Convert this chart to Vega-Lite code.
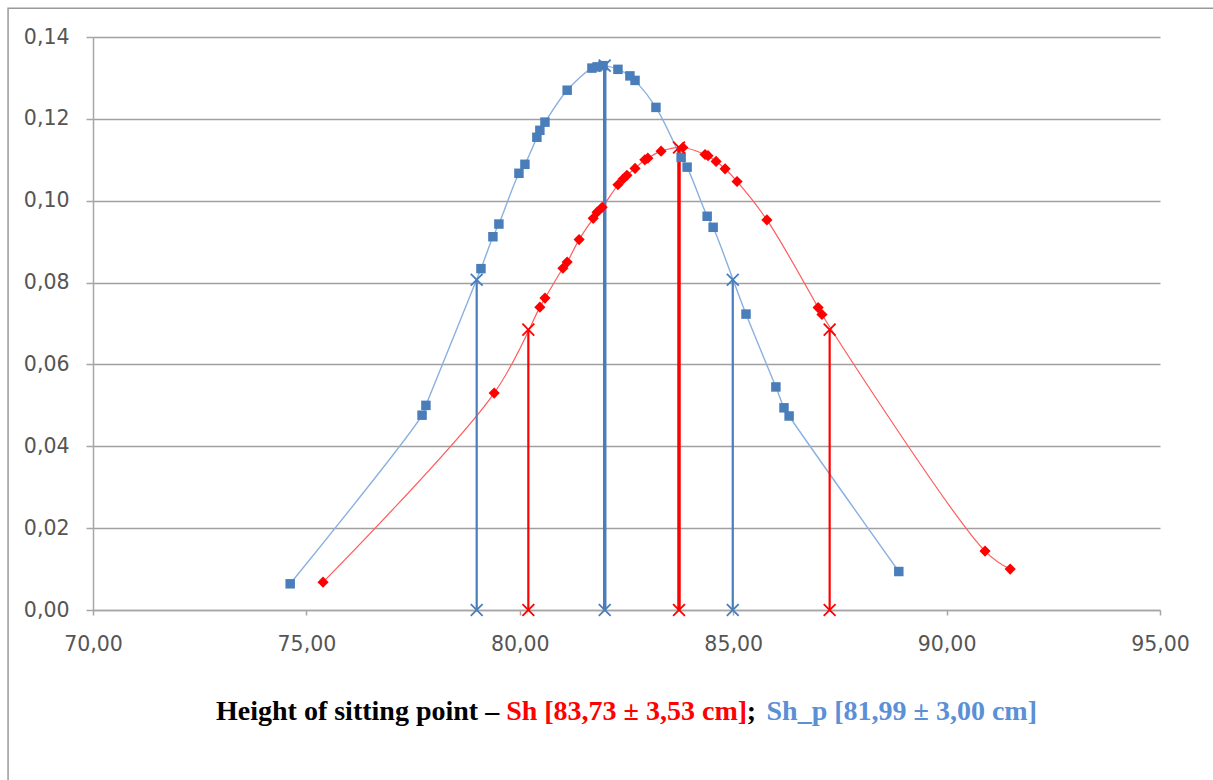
{
  "$schema": "https://vega.github.io/schema/vega-lite/v6.json",
  "width": 1067,
  "height": 573,
  "autosize": {"type": "none"},
  "padding": {"left": 93, "top": 37, "right": 53, "bottom": 170},
  "background": "white",
  "config": {
    "view": {"stroke": null},
    "font": "DejaVu Sans",
    "axis": {"labelFont": "DejaVu Sans", "labelFontSize": 20.5, "labelColor": "#555555", "labelFlush": false, "labelOverlap": false, "domainColor": "#a6a6a6", "tickColor": "#a6a6a6", "gridColor": "#a0a0a0", "gridWidth": 1.5, "domainWidth": 1.5, "tickWidth": 1.5, "labelExpr": "replace(format(datum.value, '.2f'), '.', ',')"},
    "axisX": {"grid": false, "tickSize": 5, "labelPadding": 19},
    "axisY": {"grid": true, "tickSize": 7, "labelPadding": 17}
  },
  "datasets": {
    "curve": [
      {"s": "Sh_p", "x": 74.62, "y": 0.0064},
      {"s": "Sh_p", "x": 77.71, "y": 0.0476},
      {"s": "Sh_p", "x": 77.80, "y": 0.0500},
      {"s": "Sh_p", "x": 79.09, "y": 0.0834},
      {"s": "Sh_p", "x": 79.37, "y": 0.0912},
      {"s": "Sh_p", "x": 79.51, "y": 0.0943},
      {"s": "Sh_p", "x": 79.98, "y": 0.1067},
      {"s": "Sh_p", "x": 80.12, "y": 0.1089},
      {"s": "Sh_p", "x": 80.40, "y": 0.1155},
      {"s": "Sh_p", "x": 80.47, "y": 0.1172},
      {"s": "Sh_p", "x": 80.59, "y": 0.1192},
      {"s": "Sh_p", "x": 81.11, "y": 0.1270},
      {"s": "Sh_p", "x": 81.69, "y": 0.1324},
      {"s": "Sh_p", "x": 81.81, "y": 0.1327},
      {"s": "Sh_p", "x": 81.95, "y": 0.1330},
      {"s": "Sh_p", "x": 82.30, "y": 0.1321},
      {"s": "Sh_p", "x": 82.58, "y": 0.1305},
      {"s": "Sh_p", "x": 82.70, "y": 0.1294},
      {"s": "Sh_p", "x": 83.19, "y": 0.1228},
      {"s": "Sh_p", "x": 83.78, "y": 0.1106},
      {"s": "Sh_p", "x": 83.92, "y": 0.1082},
      {"s": "Sh_p", "x": 84.39, "y": 0.0962},
      {"s": "Sh_p", "x": 84.53, "y": 0.0935},
      {"s": "Sh_p", "x": 85.30, "y": 0.0723},
      {"s": "Sh_p", "x": 86.00, "y": 0.0545},
      {"s": "Sh_p", "x": 86.19, "y": 0.0494},
      {"s": "Sh_p", "x": 86.31, "y": 0.0474},
      {"s": "Sh_p", "x": 88.88, "y": 0.0094},
      {"s": "Sh", "x": 75.39, "y": 0.0068},
      {"s": "Sh", "x": 79.40, "y": 0.0530},
      {"s": "Sh", "x": 80.47, "y": 0.0740},
      {"s": "Sh", "x": 80.59, "y": 0.0762},
      {"s": "Sh", "x": 81.01, "y": 0.0835},
      {"s": "Sh", "x": 81.11, "y": 0.0850},
      {"s": "Sh", "x": 81.39, "y": 0.0905},
      {"s": "Sh", "x": 81.72, "y": 0.0957},
      {"s": "Sh", "x": 81.81, "y": 0.0972},
      {"s": "Sh", "x": 81.93, "y": 0.0984},
      {"s": "Sh", "x": 82.30, "y": 0.1039},
      {"s": "Sh", "x": 82.42, "y": 0.1053},
      {"s": "Sh", "x": 82.51, "y": 0.1062},
      {"s": "Sh", "x": 82.70, "y": 0.1079},
      {"s": "Sh", "x": 82.93, "y": 0.1100},
      {"s": "Sh", "x": 83.00, "y": 0.1104},
      {"s": "Sh", "x": 83.31, "y": 0.1121},
      {"s": "Sh", "x": 83.82, "y": 0.1130},
      {"s": "Sh", "x": 84.34, "y": 0.1113},
      {"s": "Sh", "x": 84.41, "y": 0.1110},
      {"s": "Sh", "x": 84.60, "y": 0.1096},
      {"s": "Sh", "x": 84.81, "y": 0.1078},
      {"s": "Sh", "x": 85.09, "y": 0.1047},
      {"s": "Sh", "x": 85.79, "y": 0.0953},
      {"s": "Sh", "x": 86.99, "y": 0.0739},
      {"s": "Sh", "x": 87.08, "y": 0.0722},
      {"s": "Sh", "x": 90.90, "y": 0.0144},
      {"s": "Sh", "x": 91.49, "y": 0.0100}
    ],
    "stats": [
      {"s": "Sh_p", "k": "sd", "x": 78.99, "top": 0.0807},
      {"s": "Sh_p", "k": "mean", "x": 81.99, "top": 0.1330},
      {"s": "Sh_p", "k": "sd", "x": 84.99, "top": 0.0807},
      {"s": "Sh", "k": "sd", "x": 80.20, "top": 0.0685},
      {"s": "Sh", "k": "mean", "x": 83.73, "top": 0.1130},
      {"s": "Sh", "k": "sd", "x": 87.26, "top": 0.0685}
    ]
  },
  "layer": [
    {
      "data": {"values": [{}]},
      "mark": {"type": "rect", "fill": null, "stroke": "#9a9a9a", "strokeWidth": 1.5},
      "encoding": {
        "x": {"datum": 68.01, "type": "quantitative", "scale": {"domain": [70, 95], "nice": false, "zero": false}, "axis": {"values": [70, 75, 80, 85, 90, 95]}, "title": null},
        "x2": {"datum": 96.6},
        "y": {"datum": 0.147, "type": "quantitative", "scale": {"domain": [0, 0.14], "nice": false, "zero": false}, "axis": {"values": [0, 0.02, 0.04, 0.06, 0.08, 0.1, 0.12, 0.14]}, "title": null},
        "y2": {"datum": -0.05}
      }
    },
    {
      "data": {"name": "curve"},
      "transform": [{"filter": "datum.s === 'Sh_p'"}],
      "mark": {"type": "line", "interpolate": "catmull-rom", "color": "#8AB0E0", "strokeWidth": 1.4},
      "encoding": {
        "x": {"field": "x", "type": "quantitative", "scale": {"domain": [70, 95], "nice": false, "zero": false}, "axis": {"values": [70, 75, 80, 85, 90, 95]}, "title": null},
        "y": {"field": "y", "type": "quantitative", "scale": {"domain": [0, 0.14], "nice": false, "zero": false}, "axis": {"values": [0, 0.02, 0.04, 0.06, 0.08, 0.1, 0.12, 0.14]}, "title": null}
      }
    },
    {
      "data": {"name": "curve"},
      "transform": [{"filter": "datum.s === 'Sh'"}],
      "mark": {"type": "line", "interpolate": "catmull-rom", "color": "#FF5C5C", "strokeWidth": 1.2},
      "encoding": {
        "x": {"field": "x", "type": "quantitative", "scale": {"domain": [70, 95], "nice": false, "zero": false}, "axis": {"values": [70, 75, 80, 85, 90, 95]}, "title": null},
        "y": {"field": "y", "type": "quantitative", "scale": {"domain": [0, 0.14], "nice": false, "zero": false}, "axis": {"values": [0, 0.02, 0.04, 0.06, 0.08, 0.1, 0.12, 0.14]}, "title": null}
      }
    },
    {
      "data": {"name": "stats"},
      "mark": {"type": "rule"},
      "encoding": {
        "x": {"field": "x", "type": "quantitative", "scale": {"domain": [70, 95], "nice": false, "zero": false}, "axis": {"values": [70, 75, 80, 85, 90, 95]}, "title": null},
        "y": {"field": "top", "type": "quantitative", "scale": {"domain": [0, 0.14], "nice": false, "zero": false}, "axis": {"values": [0, 0.02, 0.04, 0.06, 0.08, 0.1, 0.12, 0.14]}, "title": null},
        "y2": {"datum": 0},
        "color": {"field": "s", "type": "nominal", "scale": {"domain": ["Sh", "Sh_p"], "range": ["#FF0000", "#4A7EBB"]}, "legend": null},
        "strokeWidth": {"field": "k", "type": "nominal", "scale": {"domain": ["mean", "sd"], "range": [3.5, 2.2]}, "legend": null}
      }
    },
    {
      "data": {"name": "curve"},
      "transform": [{"filter": "datum.s === 'Sh_p'"}],
      "mark": {"type": "point", "shape": "square", "filled": true, "size": 90, "color": "#4A7EBB", "opacity": 1},
      "encoding": {
        "x": {"field": "x", "type": "quantitative", "scale": {"domain": [70, 95], "nice": false, "zero": false}, "axis": {"values": [70, 75, 80, 85, 90, 95]}, "title": null},
        "y": {"field": "y", "type": "quantitative", "scale": {"domain": [0, 0.14], "nice": false, "zero": false}, "axis": {"values": [0, 0.02, 0.04, 0.06, 0.08, 0.1, 0.12, 0.14]}, "title": null}
      }
    },
    {
      "data": {"name": "curve"},
      "transform": [{"filter": "datum.s === 'Sh'"}],
      "mark": {"type": "point", "shape": "diamond", "filled": true, "size": 125, "color": "#FF0000", "opacity": 1},
      "encoding": {
        "x": {"field": "x", "type": "quantitative", "scale": {"domain": [70, 95], "nice": false, "zero": false}, "axis": {"values": [70, 75, 80, 85, 90, 95]}, "title": null},
        "y": {"field": "y", "type": "quantitative", "scale": {"domain": [0, 0.14], "nice": false, "zero": false}, "axis": {"values": [0, 0.02, 0.04, 0.06, 0.08, 0.1, 0.12, 0.14]}, "title": null}
      }
    },
    {
      "data": {"name": "stats"},
      "mark": {"type": "point", "shape": "M-1,-1L1,1M-1,1L1,-1", "filled": false, "size": 140, "strokeWidth": 1.8, "opacity": 1},
      "encoding": {
        "x": {"field": "x", "type": "quantitative", "scale": {"domain": [70, 95], "nice": false, "zero": false}, "axis": {"values": [70, 75, 80, 85, 90, 95]}, "title": null},
        "y": {"field": "top", "type": "quantitative", "scale": {"domain": [0, 0.14], "nice": false, "zero": false}, "axis": {"values": [0, 0.02, 0.04, 0.06, 0.08, 0.1, 0.12, 0.14]}, "title": null},
        "color": {"field": "s", "type": "nominal", "scale": {"domain": ["Sh", "Sh_p"], "range": ["#FF0000", "#4A7EBB"]}, "legend": null}
      }
    },
    {
      "data": {"name": "stats"},
      "mark": {"type": "point", "shape": "M-1,-1L1,1M-1,1L1,-1", "filled": false, "size": 140, "strokeWidth": 1.8, "opacity": 1},
      "encoding": {
        "x": {"field": "x", "type": "quantitative", "scale": {"domain": [70, 95], "nice": false, "zero": false}, "axis": {"values": [70, 75, 80, 85, 90, 95]}, "title": null},
        "y": {"datum": 0, "type": "quantitative", "scale": {"domain": [0, 0.14], "nice": false, "zero": false}, "axis": {"values": [0, 0.02, 0.04, 0.06, 0.08, 0.1, 0.12, 0.14]}, "title": null},
        "color": {"field": "s", "type": "nominal", "scale": {"domain": ["Sh", "Sh_p"], "range": ["#FF0000", "#4A7EBB"]}, "legend": null}
      }
    },
    {
      "data": {"values": [{}]},
      "mark": {"type": "text", "text": "Height of sitting point –", "font": "Liberation Serif", "fontWeight": "bold", "fontSize": 28, "align": "right", "baseline": "alphabetic", "dx": -7, "color": "#000000"},
      "encoding": {
        "x": {"datum": 79.68, "type": "quantitative", "scale": {"domain": [70, 95], "nice": false, "zero": false}, "axis": {"values": [70, 75, 80, 85, 90, 95]}, "title": null},
        "y": {"datum": -0.0269, "type": "quantitative", "scale": {"domain": [0, 0.14], "nice": false, "zero": false}, "axis": {"values": [0, 0.02, 0.04, 0.06, 0.08, 0.1, 0.12, 0.14]}, "title": null}
      }
    },
    {
      "data": {"values": [{}]},
      "mark": {"type": "text", "text": "Sh [83,73 ± 3,53 cm]", "font": "Liberation Serif", "fontWeight": "bold", "fontSize": 28, "align": "left", "baseline": "alphabetic", "color": "#FF0000"},
      "encoding": {
        "x": {"datum": 79.68, "type": "quantitative", "scale": {"domain": [70, 95], "nice": false, "zero": false}, "axis": {"values": [70, 75, 80, 85, 90, 95]}, "title": null},
        "y": {"datum": -0.0269, "type": "quantitative", "scale": {"domain": [0, 0.14], "nice": false, "zero": false}, "axis": {"values": [0, 0.02, 0.04, 0.06, 0.08, 0.1, 0.12, 0.14]}, "title": null}
      }
    },
    {
      "data": {"values": [{}]},
      "mark": {"type": "text", "text": ";", "font": "Liberation Serif", "fontWeight": "bold", "fontSize": 28, "align": "left", "baseline": "alphabetic", "color": "#000000"},
      "encoding": {
        "x": {"datum": 85.32, "type": "quantitative", "scale": {"domain": [70, 95], "nice": false, "zero": false}, "axis": {"values": [70, 75, 80, 85, 90, 95]}, "title": null},
        "y": {"datum": -0.0269, "type": "quantitative", "scale": {"domain": [0, 0.14], "nice": false, "zero": false}, "axis": {"values": [0, 0.02, 0.04, 0.06, 0.08, 0.1, 0.12, 0.14]}, "title": null}
      }
    },
    {
      "data": {"values": [{}]},
      "mark": {"type": "text", "text": "Sh_p [81,99 ± 3,00 cm]", "font": "Liberation Serif", "fontWeight": "bold", "fontSize": 28, "align": "left", "baseline": "alphabetic", "color": "#5B8FD6"},
      "encoding": {
        "x": {"datum": 85.78, "type": "quantitative", "scale": {"domain": [70, 95], "nice": false, "zero": false}, "axis": {"values": [70, 75, 80, 85, 90, 95]}, "title": null},
        "y": {"datum": -0.0269, "type": "quantitative", "scale": {"domain": [0, 0.14], "nice": false, "zero": false}, "axis": {"values": [0, 0.02, 0.04, 0.06, 0.08, 0.1, 0.12, 0.14]}, "title": null}
      }
    }
  ]
}
